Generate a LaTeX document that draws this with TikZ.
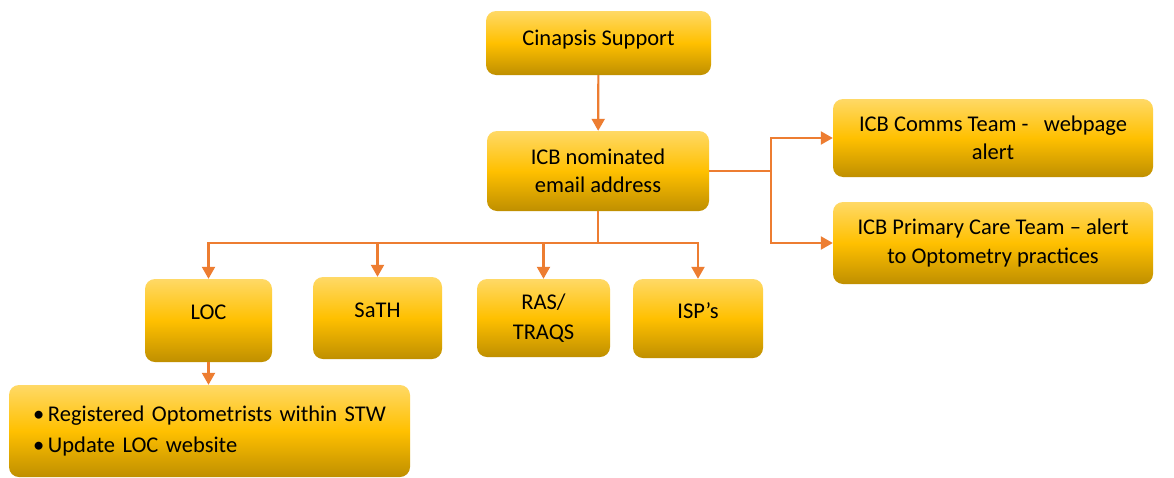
\documentclass[tikz,border=0pt]{standalone}
\usepackage{fontspec}
\setmainfont{Carlito}
\usetikzlibrary{arrows.meta,positioning}
\definecolor{boxtop}{RGB}{255,217,102}
\definecolor{boxmid}{RGB}{255,192,0}
\definecolor{boxbot}{RGB}{191,143,0}
\definecolor{linkorange}{RGB}{237,125,49}
\tikzstyle{goldbox} = [rectangle, rounded corners=10pt, top color=boxtop, bottom color=boxbot, middle color=boxmid, inner sep=0pt, align=center, font=\fontsize{22.5}{28.5}\selectfont]
\tikzstyle{raised} = [text depth=16pt]
\tikzstyle{link} = [draw=linkorange, line width=2.2pt]
\tikzstyle{linkarrow} = [link, -{Triangle[width=13pt,length=12pt]}]
\newcommand{\bulletitem}[1]{\makebox[15pt][l]{\textbullet}#1}
\begin{document}
\begin{tikzpicture}[x=1pt,y=-1pt]
	\useasboundingbox[fill=white] (0,0) rectangle (1174,477);
	% boxes
	\node[goldbox, text depth=11pt, minimum width=225pt, minimum height=64pt] (cinapsis) at (598.5,43) {Cinapsis Support};
	\node[goldbox, minimum width=222pt, minimum height=80pt] (icb) at (598,171) {ICB nominated\\email address};
	\node[goldbox, minimum width=320pt, minimum height=78pt] (comms) at (993,138) {ICB Comms Team -\ \ \ webpage\\alert};
	\node[goldbox, minimum width=320pt, minimum height=82pt] (primary) at (993,243) {ICB Primary Care Team -- alert\\to Optometry practices};
	\node[goldbox, raised, minimum width=127pt, minimum height=83pt] (loc) at (208.5,320.5) {LOC};
	\node[goldbox, raised, minimum width=129pt, minimum height=82pt] (sath) at (377.5,318) {SaTH};
	\node[goldbox, minimum width=133pt, minimum height=78pt] (ras) at (543.5,318) {RAS/\\[1pt]TRAQS};
	\node[goldbox, raised, minimum width=130pt, minimum height=79pt] (isp) at (698,318.5) {ISP’s};
	\node[goldbox, minimum width=401pt, minimum height=92pt, text width=353pt, align=left] (optom) at (209.5,431)
		{\bulletitem{Registered Optometrists within STW}\\[3pt]\bulletitem{Update LOC website}};
	% connectors
	\draw[linkarrow] (cinapsis) -- (icb);
	\draw[link] (icb.south) -- ++(0,32) coordinate (hub);
	\foreach \n in {loc,sath,ras,isp}
		\draw[linkarrow] (hub) -| (\n.north);
	\draw[link] (icb.east) -- ++(62,0) coordinate (rhub);
	\draw[linkarrow] (rhub) |- (comms.west);
	\draw[linkarrow] (rhub) |- (primary.west);
	\draw[linkarrow] (loc.south) -- (loc.south |- optom.north);
\end{tikzpicture}
\end{document}
